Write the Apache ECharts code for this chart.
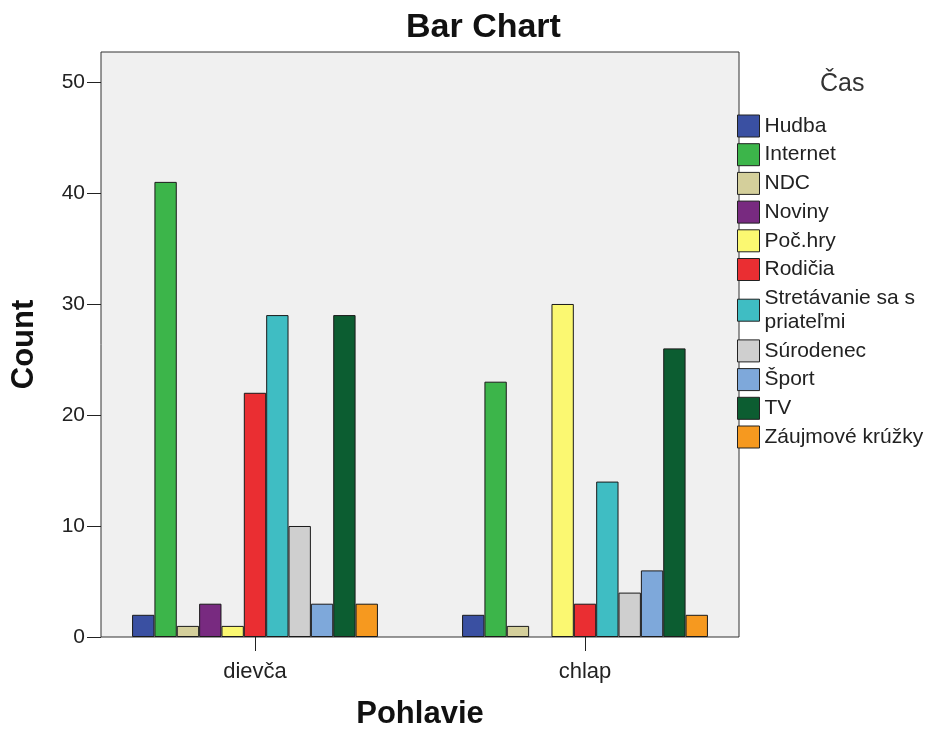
<!DOCTYPE html>
<html>
<head>
<meta charset="utf-8">
<script src="https://cdn.jsdelivr.net/npm/echarts@6/dist/echarts.min.js"></script>
<style>html,body{margin:0;padding:0;background:#fff}#c{width:946px;height:735px}</style>
</head>
<body>
<div id="c"></div>
<script>
const categories = ['dievča', 'chlap'];
const seriesNames = ['Hudba', 'Internet', 'NDC', 'Noviny', 'Poč.hry', 'Rodičia', 'Stretávanie sa s\npriateľmi', 'Súrodenec', 'Šport', 'TV', 'Záujmové krúžky'];
const hudba = [2, 2];
const internet = [41, 23];
const ndc = [1, 1];
const noviny = [3, null];
const pocHry = [1, 30];
const rodicia = [22, 3];
const stretavanie = [29, 14];
const surodenec = [10, 4];
const sport = [3, 6];
const tv = [29, 26];
const zaujmove = [3, 2];
const yTicks = [0, 10, 20, 30, 40, 50];
const colors = ['#3a50a2', '#3cb54a', '#d4cf9b', '#782a80', '#fbf871', '#ea2e32', '#3fbdc3', '#cfcfcf', '#7ea8da', '#0c5d31', '#f6991f'];

const values = [hudba, internet, ndc, noviny, pocHry, rodicia, stretavanie, surodenec, sport, tv, zaujmove];
const FONT = 'Liberation Sans, Arial, sans-serif';

const chart = echarts.init(document.getElementById('c'), null, {renderer: 'canvas'});
chart.setOption({
  animation: false,
  color: colors,
  textStyle: {fontFamily: FONT},
  title: [
    {text: 'Bar Chart', left: 406, top: 11, padding: 0, textStyle: {fontFamily: FONT, fontSize: 34, fontWeight: 'bold', color: '#111'}},
    {text: 'Čas', left: 820, top: 72, padding: 0, textStyle: {fontFamily: FONT, fontSize: 25, fontWeight: 'normal', color: '#333'}}
  ],
  legend: {
    orient: 'vertical',
    left: 737,
    top: 114,
    padding: 0,
    itemWidth: 22,
    itemHeight: 22,
    itemGap: 4.7,
    itemTextGap: 4,
    icon: 'rect',
    textStyle: {fontFamily: FONT, fontSize: 21, color: '#222', lineHeight: 24},
    itemStyle: {borderColor: '#222', borderWidth: 1},
    data: seriesNames
  },
  grid: [
    {left: 90, right: 196, top: 52, bottom: 98, show: false, outerBoundsMode: 'none', containLabel: false},
    {left: 101, right: 207, top: 52, bottom: 98, show: true, outerBoundsMode: 'none', containLabel: false, backgroundColor: '#f0f0f0', borderColor: '#333', borderWidth: 1, z: 0}
  ],
  xAxis: [
    {
      type: 'category', gridIndex: 0, data: categories,
      name: 'Pohlavie', nameLocation: 'middle', nameGap: 62,
      nameTextStyle: {fontFamily: FONT, fontSize: 31, fontWeight: 'bold', color: '#111'},
      axisLine: {show: false},
      axisTick: {show: true, alignWithLabel: true, length: 14, lineStyle: {color: '#222'}},
      axisLabel: {fontFamily: FONT, fontSize: 22, color: '#222', margin: 24}
    },
    {type: 'value', gridIndex: 1, show: false}
  ],
  yAxis: [
    {
      type: 'value', gridIndex: 0, min: 0, max: 52.7, interval: 10, offset: -11,
      name: 'Count', nameLocation: 'middle', nameGap: 61,
      nameTextStyle: {fontFamily: FONT, fontSize: 31, fontWeight: 'bold', color: '#111'},
      axisLine: {show: false},
      axisTick: {show: true, length: 14, lineStyle: {color: '#222'}, customValues: yTicks},
      axisLabel: {fontFamily: FONT, fontSize: 21, color: '#222', margin: 16, customValues: yTicks},
      splitLine: {show: false}
    },
    {type: 'value', gridIndex: 1, show: false}
  ],
  series: seriesNames.map((name, i) => ({
    name: name,
    type: 'bar',
    xAxisIndex: 0,
    yAxisIndex: 0,
    barGap: 0,
    barCategoryGap: '25.5%',
    itemStyle: {borderColor: '#1a1a1a', borderWidth: 1},
    data: values[i]
  }))
});
</script>
</body>
</html>
